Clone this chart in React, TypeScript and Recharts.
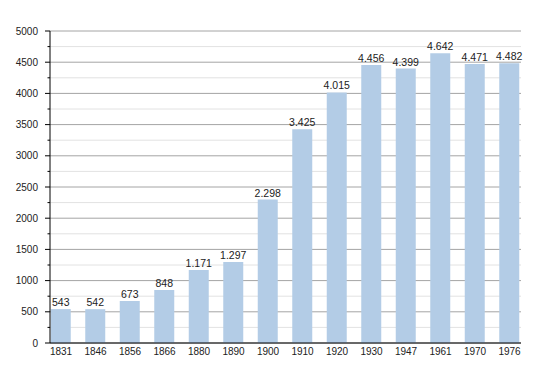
import React, { useEffect } from 'react';
import { BarChart, Bar, XAxis, YAxis, CartesianGrid, LabelList } from 'recharts';

const years = ['1831', '1846', '1856', '1866', '1880', '1890', '1900', '1910', '1920', '1930', '1947', '1961', '1970', '1976'];
const population = [543, 542, 673, 848, 1171, 1297, 2298, 3425, 4015, 4456, 4399, 4642, 4471, 4482];
const majorTicks = [0, 500, 1000, 1500, 2000, 2500, 3000, 3500, 4000, 4500, 5000];
const minorTicks = [250, 750, 1250, 1750, 2250, 2750, 3250, 3750, 4250, 4750];
const allTicks = [...majorTicks, ...minorTicks].sort((a, b) => a - b);

const data = years.map((year, i) => ({ year, value: population[i] }));

const fmt = (v: number) => String(v).replace(/\B(?=(\d{3})+(?!\d))/g, '.');

// y-axis tick: long mark + label on major values, short mark only on minor ones
const YTick = (props: any) => {
  const { x, y, payload } = props;
  const major = payload.value % 500 === 0;
  return (
    <g>
      <line x1={x - (major ? 5 : 2.5)} x2={x} y1={y} y2={y} stroke="#000" />
      {major && (
        <text x={x - 12} y={y} dy="0.35em" textAnchor="end" fill="#222" fontSize={10}>
          {payload.value}
        </text>
      )}
    </g>
  );
};

const App: React.FC = () => {
  useEffect(() => {
    document.body.style.margin = '0';
  }, []);

  return (
    <div style={{ width: 550, height: 373, background: '#fff', fontFamily: '"Liberation Sans", Arial, sans-serif' }}>
      <BarChart width={550} height={373} data={data} margin={{ top: 31, right: 29, left: 0, bottom: 10 }}>
        <CartesianGrid vertical={false} horizontalValues={minorTicks} stroke="#e2e2e2" />
        <CartesianGrid vertical={false} horizontalValues={majorTicks} stroke="#a4a4a4" />
        <XAxis
          dataKey="year"
          scale="point"
          padding={{ left: 11, right: 11.5 }}
          height={20}
          tickLine={false}
          tickSize={0}
          tickMargin={5}
          axisLine={{ stroke: '#000' }}
          tick={{ fill: '#222', fontSize: 10 }}
          interval={0}
        />
        <YAxis
          width={50}
          domain={[0, 5000]}
          ticks={allTicks}
          interval={0}
          axisLine={{ stroke: '#000' }}
          tickLine={false}
          tickSize={0}
          tickMargin={0}
          tick={<YTick />}
        />
        <Bar dataKey="value" fill="#b3cce6" barSize={20} isAnimationActive={false}>
          <LabelList dataKey="value" position="top" offset={3} formatter={(v: number) => fmt(v)} style={{ fill: '#222', fontSize: 10.5 }} />
        </Bar>
      </BarChart>
    </div>
  );
};

export default App;
